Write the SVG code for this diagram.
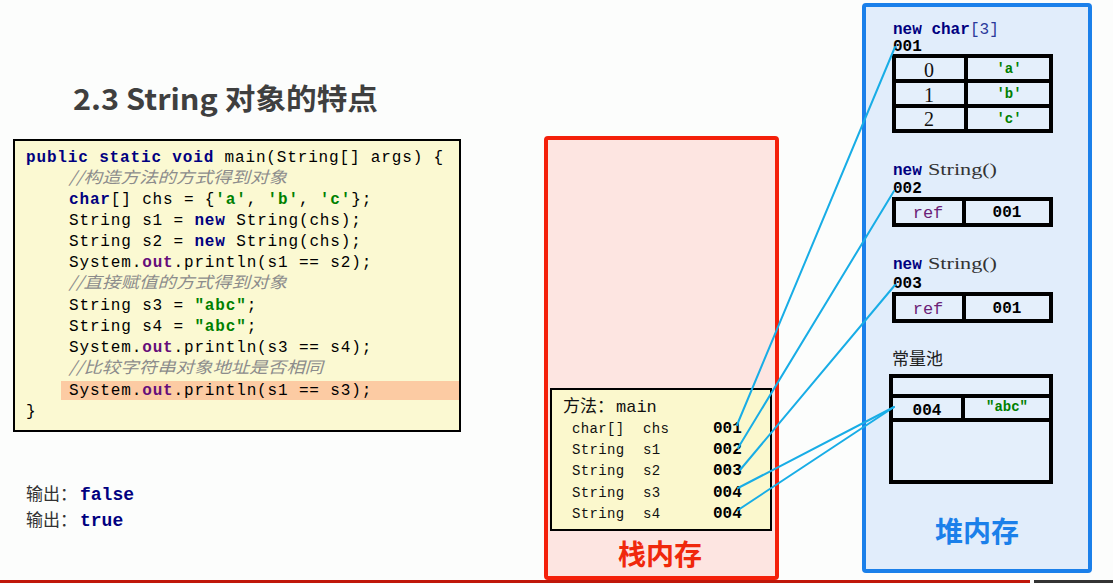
<svg xmlns="http://www.w3.org/2000/svg" width="1113" height="584" viewBox="0 0 1113 584">
<style>
.mono{font-family:"Liberation Mono","DejaVu Sans Mono",monospace;}
.code{font-family:"Liberation Mono","DejaVu Sans Mono",monospace;font-size:16px;letter-spacing:0.85px;fill:#000;white-space:pre;}
.kw{font-weight:bold;fill:#000080;}
.fld{font-weight:bold;fill:#660e7a;}
.str{font-weight:bold;fill:#008000;}
.cmt{font-family:"Noto Sans CJK SC",sans-serif;font-style:italic;font-size:16px;fill:#8c8c8c;}
.cjk{font-family:"Noto Sans CJK SC",sans-serif;}
.stk{font-family:"Liberation Mono",monospace;font-size:14px;letter-spacing:0.35px;fill:#111;}
.addr{font-family:"Liberation Mono",monospace;font-size:16px;font-weight:bold;fill:#000;}
.cell{fill:#e4effb;stroke:#000;stroke-width:4;}
.div{stroke:#000;stroke-width:4;}
.ref{font-family:"Liberation Mono",monospace;font-size:17px;fill:#6b1f78;}
.idx{font-family:"Liberation Serif",serif;font-size:20px;fill:#111;}
.chv{font-family:"Liberation Mono",monospace;font-size:14px;font-weight:bold;fill:#008000;}
.ctor{font-family:"Liberation Serif",serif;font-size:16px;fill:#333;}
.conn{stroke:#18ade6;stroke-width:2;fill:none;stroke-linecap:round;}
</style>
<rect x="0" y="0" width="1113" height="584" fill="#fcfdfc"/>

<g id="title">
<text x="73" y="110" class="cjk" font-size="29" font-weight="bold" fill="#3f3f3f" textLength="305" lengthAdjust="spacingAndGlyphs">2.3 String 对象的特点</text>
</g>

<g id="code">
<rect x="14" y="140" width="446" height="291" fill="#fbf9d2" stroke="#000" stroke-width="2"/>
<rect x="61" y="381" width="398" height="19" fill="#fccba3"/>
<text y="162" class="code"><tspan x="26" class="kw">public static void</tspan><tspan x="214.1"> main(String[] args) {</tspan></text>
<text x="69" y="183" class="cmt" textLength="218" lengthAdjust="spacingAndGlyphs">//构造方法的方式得到对象</text>
<text y="204" class="code"><tspan x="69" class="kw">char</tspan><tspan x="110.8">[] chs = {</tspan><tspan x="215.3" class="str">'a'</tspan><tspan x="246.7">,</tspan><tspan x="267.6" class="str">'b'</tspan><tspan x="298.9">,</tspan><tspan x="319.8" class="str">'c'</tspan><tspan x="351.2">};</tspan></text>
<text y="225" class="code"><tspan x="69">String s1 =</tspan><tspan x="194.4" class="kw">new</tspan><tspan x="225.8"> String(chs);</tspan></text>
<text y="246" class="code"><tspan x="69">String s2 =</tspan><tspan x="194.4" class="kw">new</tspan><tspan x="225.8"> String(chs);</tspan></text>
<text y="267" class="code"><tspan x="69">System.</tspan><tspan x="142.2" class="fld">out</tspan><tspan x="173.5">.println(s1 == s2);</tspan></text>
<text x="69" y="288" class="cmt" textLength="218" lengthAdjust="spacingAndGlyphs">//直接赋值的方式得到对象</text>
<text y="310" class="code"><tspan x="69">String s3 =</tspan><tspan x="194.4" class="str">"abc"</tspan><tspan x="246.7">;</tspan></text>
<text y="331" class="code"><tspan x="69">String s4 =</tspan><tspan x="194.4" class="str">"abc"</tspan><tspan x="246.7">;</tspan></text>
<text y="352" class="code"><tspan x="69">System.</tspan><tspan x="142.2" class="fld">out</tspan><tspan x="173.5">.println(s3 == s4);</tspan></text>
<text x="69" y="373" class="cmt" textLength="254" lengthAdjust="spacingAndGlyphs">//比较字符串对象地址是否相同</text>
<text y="395" class="code"><tspan x="69">System.</tspan><tspan x="142.2" class="fld">out</tspan><tspan x="173.5">.println(s1 == s3);</tspan></text>
<text x="26" y="416" class="code">}</text>
</g>

<g id="output">
<text x="26" y="500" class="cjk" font-size="17" fill="#333">输出：</text>
<text x="80" y="500" class="mono" font-size="18" font-weight="bold" fill="#000080">false</text>
<text x="26" y="526" class="cjk" font-size="17" fill="#333">输出：</text>
<text x="80" y="526" class="mono" font-size="18" font-weight="bold" fill="#000080">true</text>
</g>

<g id="stack">
<rect x="546" y="138" width="231" height="440" rx="2" fill="#fde5e1" stroke="#f4200a" stroke-width="4"/>
<rect x="551" y="389" width="220" height="141" fill="#fbf8cd" stroke="#000" stroke-width="2"/>
<text x="563" y="412" class="cjk" font-size="17" fill="#111">方法：</text>
<text x="616" y="412" class="mono" font-size="17" fill="#111">main</text>
<text x="572" y="433" class="stk">char[]</text><text x="643" y="433" class="stk">chs</text>
<text x="572" y="454" class="stk">String</text><text x="643" y="454" class="stk">s1</text>
<text x="572" y="475" class="stk">String</text><text x="643" y="475" class="stk">s2</text>
<text x="572" y="497" class="stk">String</text><text x="643" y="497" class="stk">s3</text>
<text x="572" y="518" class="stk">String</text><text x="643" y="518" class="stk">s4</text>
<text x="713" y="433" class="addr">001</text>
<text x="713" y="454" class="addr">002</text>
<text x="713" y="475" class="addr">003</text>
<text x="713" y="497" class="addr">004</text>
<text x="713" y="518" class="addr">004</text>
<text x="660" y="565" class="cjk" font-size="28" font-weight="bold" fill="#f0280c" text-anchor="middle">栈内存</text>
</g>

<g id="heap">
<rect x="864" y="5" width="226" height="566" rx="2" fill="#e1edfb" stroke="#1b80ea" stroke-width="4"/>
<text x="977" y="542" class="cjk" font-size="28" font-weight="bold" fill="#1b80ea" text-anchor="middle">堆内存</text>
</g>

<g id="char-array">
<text x="893" y="34" class="mono" font-size="16" font-weight="bold" fill="#000080">new char</text>
<text x="970" y="34" class="mono" font-size="16" fill="#2a3a9a">[3]</text>
<text x="893" y="51" class="addr" font-size="15">001</text>
<rect x="894" y="56" width="157" height="75" class="cell"/>
<line x1="894" y1="81" x2="1051" y2="81" class="div"/>
<line x1="894" y1="106" x2="1051" y2="106" class="div"/>
<line x1="966" y1="56" x2="966" y2="131" class="div"/>
<text x="929" y="77" class="idx" text-anchor="middle">0</text>
<text x="929" y="102" class="idx" text-anchor="middle">1</text>
<text x="929" y="126" class="idx" text-anchor="middle">2</text>
<text x="1009" y="73" class="chv" text-anchor="middle">'a'</text>
<text x="1009" y="98" class="chv" text-anchor="middle">'b'</text>
<text x="1009" y="123" class="chv" text-anchor="middle">'c'</text>
</g>

<g id="string-002">
<text x="893" y="175" class="mono" font-size="16" font-weight="bold" fill="#000080">new</text>
<text x="928" y="175" class="ctor" textLength="69" lengthAdjust="spacingAndGlyphs">String()</text>
<text x="893" y="193" class="addr" font-size="15">002</text>
<rect x="894" y="199" width="157" height="26" class="cell"/>
<line x1="964" y1="199" x2="964" y2="225" class="div"/>
<text x="928" y="218" class="ref" text-anchor="middle">ref</text>
<text x="1007" y="217" class="addr" font-size="15" text-anchor="middle">001</text>
</g>

<g id="string-003">
<text x="893" y="269" class="mono" font-size="16" font-weight="bold" fill="#000080">new</text>
<text x="928" y="269" class="ctor" textLength="69" lengthAdjust="spacingAndGlyphs">String()</text>
<text x="893" y="288" class="addr" font-size="15">003</text>
<rect x="894" y="294" width="157" height="27" class="cell"/>
<line x1="964" y1="294" x2="964" y2="321" class="div"/>
<text x="928" y="314" class="ref" text-anchor="middle">ref</text>
<text x="1007" y="313" class="addr" font-size="15" text-anchor="middle">001</text>
</g>

<g id="constant-pool">
<text x="892" y="365" class="cjk" font-size="17" fill="#222">常量池</text>
<rect x="891" y="376" width="160" height="106" class="cell"/>
<line x1="891" y1="396" x2="1051" y2="396" class="div"/>
<line x1="891" y1="420" x2="1051" y2="420" class="div"/>
<line x1="963" y1="396" x2="963" y2="420" class="div"/>
<text x="927" y="415" class="addr" font-size="16" text-anchor="middle">004</text>
<text x="1007" y="411" class="chv" text-anchor="middle">"abc"</text>
</g>

<g id="connectors">
<line class="conn" x1="737" y1="425" x2="895" y2="47"/>
<line class="conn" x1="738" y1="448" x2="894" y2="191"/>
<line class="conn" x1="740" y1="470" x2="895" y2="285"/>
<line class="conn" x1="738" y1="488" x2="894" y2="407"/>
<line class="conn" x1="738" y1="510" x2="894" y2="407"/>
</g>

<g id="bottom-rule">
<rect x="0" y="580" width="1030" height="3" fill="#c0170a"/>
<rect x="1034" y="580" width="79" height="3" fill="#333"/>
</g>
</svg>
